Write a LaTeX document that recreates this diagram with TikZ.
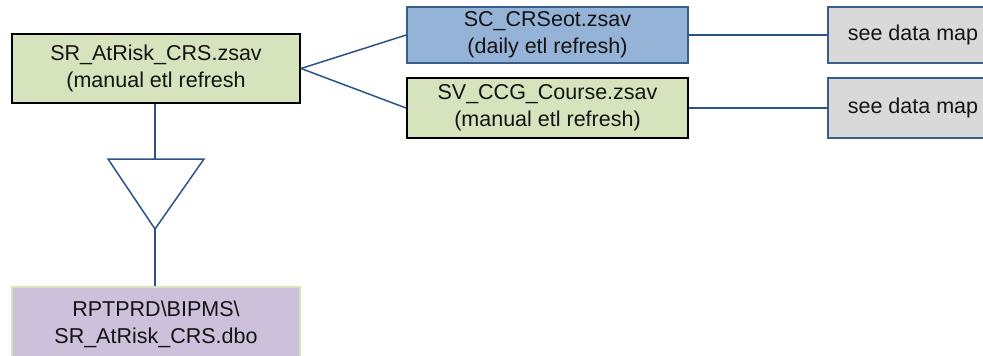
\documentclass[tikz,border=0pt]{standalone}
\usepackage{fontspec}
\setmainfont{Liberation Sans}
\definecolor{lineblue}{RGB}{44,82,138}
\definecolor{boxblue}{RGB}{56,93,138}
\definecolor{fillgreen}{RGB}{214,227,188}
\definecolor{fillblue}{RGB}{149,179,215}
\definecolor{fillgray}{RGB}{217,217,217}
\definecolor{fillpurple}{RGB}{204,192,218}
\definecolor{txt}{RGB}{20,20,20}
\begin{document}
\begin{tikzpicture}[x=1pt,y=-1pt,
  box/.style={rectangle, inner sep=0pt, align=center, text=txt,
    font=\fontsize{21.5}{27}\selectfont},
  conn/.style={draw=lineblue, line width=1.5pt}]
\useasboundingbox (0,0) rectangle (983,356);
\begin{scope}
\clip (0,0) rectangle (983,356);
\node[box, draw=black, line width=2pt, fill=fillgreen, minimum width=288pt, minimum height=69pt]
  (a) at (156,68.5) {SR\_AtRisk\_CRS.zsav\\(manual etl refresh};
\node[box, draw=boxblue, line width=1.5pt, fill=fillblue, minimum width=281pt, minimum height=56pt]
  (b) at (547.5,35) {SC\_CRSeot.zsav\\(daily etl refresh)};
\node[box, draw=black, line width=2pt, fill=fillgreen, minimum width=281pt, minimum height=60pt]
  (c) at (547.5,108) {SV\_CCG\_Course.zsav\\(manual etl refresh)};
\node[box, draw=boxblue, line width=1.5pt, fill=fillgray, minimum width=170pt, minimum height=56pt]
  (d) at (913,35) {see data map};
\node[box, draw=boxblue, line width=1.5pt, fill=fillgray, minimum width=170pt, minimum height=60pt]
  (e) at (913,108) {see data map};
\node[box, draw=fillgreen, line width=1.5pt, fill=fillpurple, minimum width=288pt, minimum height=74pt]
  (f) at (156,324) {RPTPRD\textbackslash BIPMS\textbackslash\\SR\_AtRisk\_CRS.dbo};
\coordinate (tl) at (108,159);
\coordinate (tr) at (204,159);
\coordinate (tt) at (155,159);
\coordinate (tb) at (155,229);
\draw[conn, fill=white, line join=miter] (tl) -- (tr) -- (tb) -- cycle;
\draw[conn] (a.east) -- (b.west);
\draw[conn] (a.east) -- (c.west);
\draw[conn] (b.east) -- (d.west);
\draw[conn] (c.east) -- (e.west);
\draw[conn] (a.south -| tt) -- (tt);
\draw[conn] (tb) -- (f.north -| tb);
\end{scope}
\end{tikzpicture}
\end{document}
